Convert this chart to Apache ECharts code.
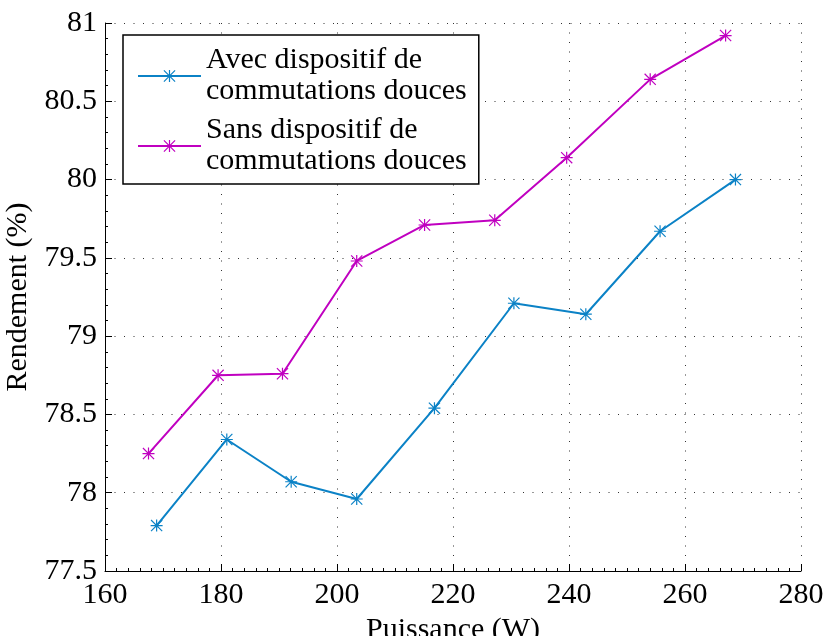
<!DOCTYPE html>
<html lang="fr">
<head>
<meta charset="UTF-8">
<title>Rendement</title>
<script src="https://cdn.jsdelivr.net/npm/echarts@6/dist/echarts.min.js"></script>
<style>
  html, body { margin: 0; padding: 0; background: #fff; }
</style>
</head>
<body>
<div id="main" style="width:825px;height:636px;"></div>
<script>
// puissance (W) / rendement (%)
var avecX = [168.9, 181.0, 192.1, 203.4, 216.8, 230.5, 242.9, 255.7, 268.7];
var avecY = [77.79, 78.34, 78.07, 77.96, 78.54, 79.21, 79.14, 79.67, 80.00];
var sansX = [167.5, 179.5, 190.6, 203.4, 215.1, 227.2, 239.6, 254.0, 267.0];
var sansY = [78.25, 78.75, 78.76, 79.48, 79.71, 79.74, 80.14, 80.64, 80.92];

var nomAvec = 'Avec dispositif de\ncommutations douces';
var nomSans = 'Sans dispositif de\ncommutations douces';

// asterisque (style matlab)
var etoile = 'path://M9 0L11 0L11 20L9 20Z M0 9L20 9L20 11L0 11Z ' +
  'M0 1.4L1.4 0L20 18.6L18.6 20Z M18.6 0L20 1.4L1.4 20L0 18.6Z';

var police = 'Liberation Serif';

function paires(xs, ys) {
  return xs.map(function (x, i) { return [x, ys[i]]; });
}

var myChart = echarts.init(document.getElementById('main'));

var option = {
  animation: false,
  grid: { left: 105, right: 24, top: 23, bottom: 65, outerBoundsMode: 'none' },
  legend: {
    orient: 'vertical',
    left: 123,
    top: 35,
    padding: [10, 12, 7, 14],
    itemGap: 8,
    itemWidth: 63,
    itemHeight: 15,
    borderColor: '#000',
    borderWidth: 1.5,
    borderRadius: 0,
    backgroundColor: '#fff',
    textStyle: { fontFamily: police, fontSize: 30, lineHeight: 31, color: '#000' },
    data: [nomAvec, nomSans]
  },
  xAxis: {
    type: 'value',
    min: 160, max: 280, interval: 20,
    name: 'Puissance (W)',
    nameLocation: 'middle',
    nameGap: 32,
    nameTextStyle: { fontFamily: police, fontSize: 30, color: '#000' },
    axisLine: { lineStyle: { color: '#000', width: 1 } },
    axisTick: { inside: true, length: 7, lineStyle: { color: '#000' } },
    minorTick: { show: true, splitNumber: 10, length: 3, lineStyle: { color: '#000' } },
    axisLabel: { fontFamily: police, fontSize: 30, color: '#000', margin: 9 },
    splitLine: { show: true, lineStyle: { color: '#333', type: [1, 8.5], width: 1 } }
  },
  yAxis: {
    type: 'value',
    min: 77.5, max: 81, interval: 0.5,
    name: 'Rendement (%)',
    nameLocation: 'middle',
    nameGap: 64,
    nameTextStyle: { fontFamily: police, fontSize: 30, color: '#000' },
    axisLine: { show: true, lineStyle: { color: '#000', width: 1 } },
    axisTick: { show: true, inside: true, length: 7, lineStyle: { color: '#000' } },
    minorTick: { show: true, splitNumber: 5, length: 3, lineStyle: { color: '#000' } },
    axisLabel: { fontFamily: police, fontSize: 30, color: '#000', margin: 8 },
    splitLine: { show: true, lineStyle: { color: '#333', type: [1, 8.5], width: 1 } }
  },
  series: [
    {
      name: nomAvec,
      type: 'line',
      data: paires(avecX, avecY),
      symbol: etoile,
      symbolSize: 12,
      color: '#0b82c6',
      lineStyle: { width: 2, color: '#0b82c6' },
      itemStyle: { color: '#0b82c6' }
    },
    {
      name: nomSans,
      type: 'line',
      data: paires(sansX, sansY),
      symbol: etoile,
      symbolSize: 12,
      color: '#c000c0',
      lineStyle: { width: 2, color: '#c000c0' },
      itemStyle: { color: '#c000c0' }
    }
  ]
};

myChart.setOption(option);
</script>
</body>
</html>
